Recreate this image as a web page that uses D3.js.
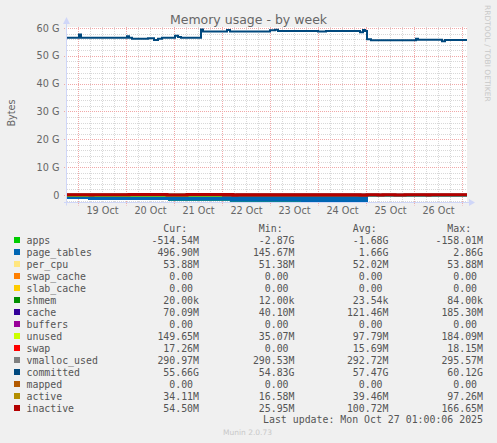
<!DOCTYPE html>
<html><head><meta charset="utf-8">
<script src="https://cdn.jsdelivr.net/npm/d3@7/dist/d3.min.js"></script>
<style>body{margin:0;background:#f0f0f0;}svg{display:block;}</style>
</head><body>
<svg id="chart" width="497" height="443"></svg>
<script>
// ---------- data (values in G bytes) ----------
const timeStart = "2025-10-18 18:30";
const timeEnd = "2025-10-27 02:30";
const dayTicks = ["2025-10-19 12:00","2025-10-20 12:00","2025-10-21 12:00","2025-10-22 12:00","2025-10-23 12:00","2025-10-24 12:00","2025-10-25 12:00","2025-10-26 12:00"];
const dayLabels = ["19 Oct","20 Oct","21 Oct","22 Oct","23 Oct","24 Oct","25 Oct","26 Oct"];
const yTickValues = [0,10,20,30,40,50,60];
const yTickLabels = ["0","10 G","20 G","30 G","40 G","50 G","60 G"];

const committed = [["2025-10-18 18:30",56.5],["2025-10-19 00:30",57.7],["2025-10-19 01:30",56.5],["2025-10-20 00:30",57.0],["2025-10-20 01:30",56.5],["2025-10-20 03:00",56.1],["2025-10-20 11:00",56.3],["2025-10-20 14:00",55.7],["2025-10-20 16:00",56.1],["2025-10-20 18:00",56.5],["2025-10-21 00:30",57.2],["2025-10-21 02:00",56.8],["2025-10-21 03:30",56.5],["2025-10-21 13:30",59.5],["2025-10-21 14:30",58.7],["2025-10-22 02:30",59.3],["2025-10-22 04:00",58.7],["2025-10-23 00:00",59.2],["2025-10-23 02:30",59.4],["2025-10-23 04:00",58.9],["2025-10-24 00:00",58.7],["2025-10-24 04:00",58.9],["2025-10-24 21:00",58.5],["2025-10-24 22:30",59.3],["2025-10-24 23:30",58.9],["2025-10-25 00:30",56.0],["2025-10-25 02:30",55.6],["2025-10-26 01:00",56.1],["2025-10-26 02:00",55.8],["2025-10-26 14:00",55.2],["2025-10-26 15:30",55.7],["2025-10-27 02:30",55.66]];
const apps = [["2025-10-18 18:30",-1.45],["2025-10-19 05:00",-1.8],["2025-10-20 21:00",-2.05],["2025-10-22 04:00",-2.4],["2025-10-23 15:30",-2.87],["2025-10-25 01:00",-0.51],["2025-10-27 02:30",-0.51]];
const pageTables = [["2025-10-18 18:30",0.75],["2025-10-19 05:00",1.1],["2025-10-20 21:00",1.35],["2025-10-22 04:00",1.7],["2025-10-23 15:30",2.17],["2025-10-25 01:00",0.497],["2025-10-27 02:30",0.497]];
const perCpu = [["2025-10-18 18:30",0.052],["2025-10-27 02:30",0.054]];
const swapCache = [["2025-10-18 18:30",0],["2025-10-27 02:30",0]];
const slabCache = [["2025-10-18 18:30",0],["2025-10-27 02:30",0]];
const shmem = [["2025-10-18 18:30",0.00002],["2025-10-27 02:30",0.00002]];
const cache = [["2025-10-18 18:30",0.13],["2025-10-22 00:00",0.17],["2025-10-25 01:00",0.08],["2025-10-27 02:30",0.07]];
const buffers = [["2025-10-18 18:30",0],["2025-10-27 02:30",0]];
const unused = [["2025-10-18 18:30",0.09],["2025-10-22 00:00",0.06],["2025-10-25 01:00",0.14],["2025-10-27 02:30",0.15]];
const swap = [["2025-10-18 18:30",0.016],["2025-10-27 02:30",0.017]];
const vmallocUsed = [["2025-10-18 18:30",0.291],["2025-10-22 00:00",0.294],["2025-10-25 00:00",0.291],["2025-10-27 02:30",0.291]];
const mapped = [["2025-10-18 18:30",0],["2025-10-27 02:30",0]];
const active = [["2025-10-18 18:30",0.04],["2025-10-21 19:00",0.09],["2025-10-22 03:00",0.035],["2025-10-27 02:30",0.034]];
const inactive = [["2025-10-18 18:30",0.11],["2025-10-19 06:00",0.03],["2025-10-19 07:30",0.12],["2025-10-19 22:00",0.04],["2025-10-20 01:30",0.13],["2025-10-20 20:30",0.035],["2025-10-21 06:30",0.14],["2025-10-21 19:00",0.16],["2025-10-22 05:30",0.03],["2025-10-22 07:30",0.12],["2025-10-23 12:00",0.09],["2025-10-24 21:00",0.03],["2025-10-25 00:30",0.08],["2025-10-25 06:00",0.03],["2025-10-25 08:30",0.07],["2025-10-25 14:30",0.028],["2025-10-25 19:30",0.07],["2025-10-26 06:30",0.03],["2025-10-26 08:00",0.06],["2025-10-27 02:30",0.0545]];

const legendNames = ["apps","page_tables","per_cpu","swap_cache","slab_cache","shmem","cache","buffers","unused","swap","vmalloc_used","committed","mapped","active","inactive"];
const legendColors = ["#00CC00","#0066B3","#FFE680","#FF8000","#FFCC00","#008F00","#330099","#990099","#CCFF00","#FF0000","#808080","#00487D","#B35A00","#B38F00","#B30000"];
const legendCur = ["-514.54M","496.90M","53.88M","0.00","0.00","20.00k","70.09M","0.00","149.65M","17.26M","290.97M","55.66G","0.00","34.11M","54.50M"];
const legendMin = ["-2.87G","145.67M","51.38M","0.00","0.00","12.00k","40.10M","0.00","35.07M","0.00","290.53M","54.83G","0.00","16.58M","25.95M"];
const legendAvg = ["-1.68G","1.66G","52.02M","0.00","0.00","23.54k","121.46M","0.00","97.79M","15.69M","292.72M","57.47G","0.00","39.46M","100.72M"];
const legendMax = ["-158.01M","2.86G","53.88M","0.00","0.00","84.00k","185.30M","0.00","184.09M","18.15M","295.57M","60.12G","0.00","97.26M","166.65M"];

// ---------- drawing ----------
const parse = d3.timeParse("%Y-%m-%d %H:%M");
const svg = d3.select("#chart");
const FONT = "#666666";
const L = 67, R = 467, T = 27, B = 202.5;
const x = d3.scaleTime().domain([parse(timeStart), parse(timeEnd)]).range([L, R]);
const y = d3.scaleLinear().domain([-2.7, 60.36]).range([B, T]);

svg.append("rect").attr("x",0).attr("y",0).attr("width",497).attr("height",443).attr("fill","#f0f0f0");
svg.append("rect").attr("x",L).attr("y",T).attr("width",R-L).attr("height",B-T).attr("fill","#ffffff");

// grid
const g = svg.append("g");
const hours = d3.timeHour.every(6).range(parse(timeStart), parse(timeEnd));
hours.forEach(h => {
  const xx = Math.round(x(h)) + 0.5;
  const major = h.getHours() === 0;
  g.append("line").attr("x1",xx).attr("x2",xx).attr("y1",T).attr("y2",major?B+3:B)
   .attr("stroke", major ? "#f0a8a8" : "#d8d8d8").attr("stroke-dasharray","1,1");
});
d3.range(-2, 61, 2).forEach(v => {
  const yy = Math.round(y(v)) + 0.5;
  const major = v % 10 === 0;
  g.append("line").attr("x1",major?L-3:L).attr("x2",R).attr("y1",yy).attr("y2",yy)
   .attr("stroke", major ? "#f0a8a8" : "#d8d8d8").attr("stroke-dasharray","1,1");
});

// clip
svg.append("clipPath").attr("id","clip").append("rect").attr("x",L).attr("y",T).attr("width",R-L).attr("height",B-T);
const plot = svg.append("g").attr("clip-path","url(#clip)");

// step lookup
function stepVal(series, t) {
  let v = series[0][1];
  for (const [ts, val] of series) { if (parse(ts) <= t) v = val; }
  return v;
}
const stackSeries = [apps, pageTables, perCpu, swapCache, slabCache, shmem, cache, buffers, unused, swap];
const stackColors = legendColors.slice(0, 10);
const allTimes = Array.from(new Set(stackSeries.flat().map(d => d[0]))).map(parse).sort((a,b)=>a-b);
// stacked areas
let prev = allTimes.map(() => 0);
stackSeries.forEach((s, i) => {
  const rows = allTimes.map((t, k) => {
    const v = stepVal(s, t);
    const lo = i === 0 ? 0 : prev[k];
    const hi = i === 0 ? v : prev[k] + v;
    return {t, lo, hi};
  });
  prev = rows.map(r => r.hi);
  plot.append("path").datum(rows)
    .attr("d", d3.area().curve(d3.curveStepAfter).x(d => x(d.t)).y0(d => y(d.lo)).y1(d => y(d.hi)))
    .attr("fill", stackColors[i]);
});

// lines
const lineSeries = [[vmallocUsed,"#808080",2],[committed,"#00487D",2],[mapped,"#B35A00",2],[active,"#B38F00",2],[inactive,"#B30000",3]];
lineSeries.forEach(([s, c, w]) => {
  plot.append("path").datum(s.map(d => ({t: parse(d[0]), v: d[1]})))
    .attr("d", d3.line().curve(d3.curveStepAfter).x(d => x(d.t)).y(d => y(d.v)))
    .attr("fill","none").attr("stroke", c).attr("stroke-width", w);
});

// axes lines + arrows
const AX = "#CFD6F8";
svg.append("line").attr("x1",L-0.5).attr("x2",L-0.5).attr("y1",B+3).attr("y2",T-5).attr("stroke",AX);
svg.append("line").attr("x1",L-3).attr("x2",R+4).attr("y1",B).attr("y2",B).attr("stroke",AX);
svg.append("path").attr("d",`M${L-4},${T-3} L${L-0.5},${T-10} L${L+3},${T-3} Z`).attr("fill",AX);
svg.append("path").attr("d",`M${R+2},${B-3.5} L${R+8},${B} L${R+2},${B+3.5} Z`).attr("fill",AX);

// y tick labels
const yAxis = d3.axisLeft(y).tickValues(yTickValues).tickFormat((d,i) => yTickLabels[i]).tickSize(0).tickPadding(0);
const ya = svg.append("g").attr("transform",`translate(${L-7.5},0)`).call(yAxis);
ya.select(".domain").remove();
ya.selectAll("text").attr("fill",FONT).attr("font-family","DejaVu Sans").attr("font-size","9.7px");

// x tick labels
const xAxis = d3.axisBottom(x).tickValues(dayTicks.map(parse)).tickFormat((d,i) => dayLabels[i]).tickSize(0).tickPadding(0);
const xa = svg.append("g").attr("transform",`translate(0,${B+5})`).call(xAxis);
xa.select(".domain").remove();
xa.selectAll("text").attr("fill",FONT).attr("font-family","DejaVu Sans").attr("font-size","9.7px");

// title
svg.append("text").attr("x",248.5).attr("y",23.5).attr("text-anchor","middle")
  .attr("font-family","DejaVu Sans").attr("font-size","12.5px").attr("fill",FONT).text("Memory usage - by week");
// y label
svg.append("text").attr("transform","translate(14.5,113) rotate(-90)").attr("text-anchor","middle")
  .attr("font-family","DejaVu Sans").attr("font-size","9.7px").attr("fill",FONT).text("Bytes");
// watermark
svg.append("text").attr("transform","translate(485,5) rotate(90)").attr("text-anchor","start")
  .attr("font-family","DejaVu Sans").attr("font-size","7.5px").attr("fill","#c8c8c8").text("RRDTOOL / TOBI OETIKER");

// legend
const lg = svg.append("g").attr("font-family","DejaVu Sans Mono").attr("font-size","9.9px").attr("fill","#555");
const nb = "\u00a0";
const fmt = s => /[A-Za-z]$/.test(s) ? s : s + nb;
const cols = [[199, "Cur:", legendCur],[294.5, "Min:", legendMin],[388.5, "Avg:", legendAvg],[483, "Max:", legendMax]];
const row0 = 228, rowH = 12;
cols.forEach(([cx, h]) => {
  lg.append("text").attr("x",cx).attr("y",row0+3.6).attr("text-anchor","end").text(h + nb + nb);
});
legendNames.forEach((n, i) => {
  const cy = row0 + rowH*(i+1);
  lg.append("rect").attr("x",14).attr("y",cy-3).attr("width",6).attr("height",6).attr("fill",legendColors[i]);
  lg.append("text").attr("x",26.5).attr("y",cy+3.6).text(n);
  cols.forEach(([cx, h, arr]) => {
    lg.append("text").attr("x",cx).attr("y",cy+3.6).attr("text-anchor","end").text(fmt(arr[i]));
  });
});
lg.append("text").attr("x",483).attr("y",419.7+3.6).attr("text-anchor","end").text("Last update: Mon Oct 27 01:00:06 2025");
svg.append("text").attr("x",247.5).attr("y",434.7).attr("text-anchor","middle")
  .attr("font-family","DejaVu Sans").attr("font-size","7.5px").attr("fill","#c8c8c8").text("Munin 2.0.73");
</script>
</body></html>
